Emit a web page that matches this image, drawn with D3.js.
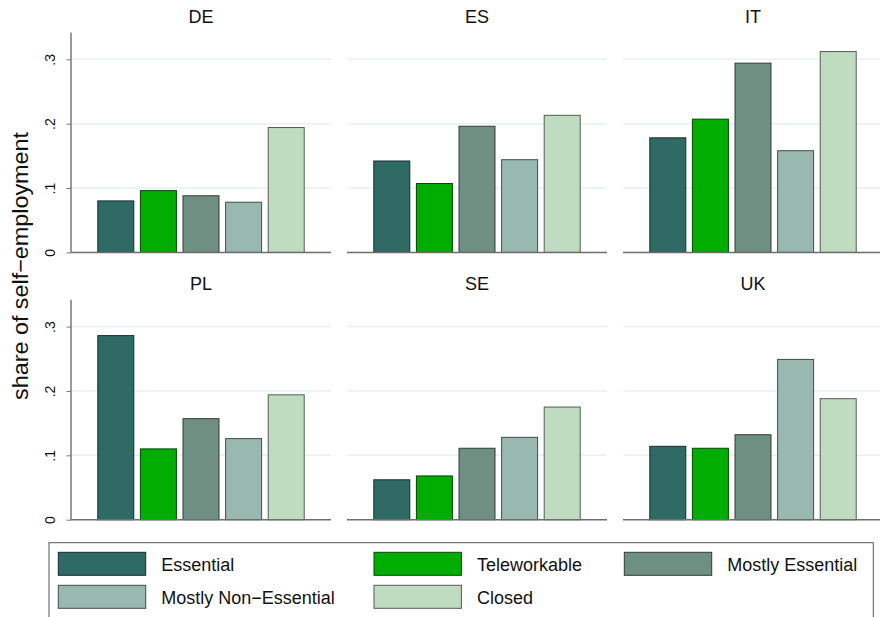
<!DOCTYPE html>
<html>
<head>
<meta charset="utf-8">
<script src="https://cdn.jsdelivr.net/npm/d3@7"></script>
<style>
  body { margin: 0; background: #fff; }
  svg { display: block; font-family: "Liberation Sans", Arial, Helvetica, sans-serif; }
</style>
</head>
<body>
<svg id="chart" width="880" height="617"></svg>
<script>
// data
let countries = ["DE", "ES", "IT", "PL", "SE", "UK"]
let categories = ["Essential", "Teleworkable", "Mostly Essential", "Mostly Non\u2212Essential", "Closed"]
let essential       = [0.080, 0.142, 0.178, 0.286, 0.062, 0.114]
let teleworkable    = [0.096, 0.107, 0.207, 0.110, 0.068, 0.111]
let mostlyEssential = [0.088, 0.196, 0.294, 0.157, 0.111, 0.132]
let mostlyNonEss    = [0.078, 0.144, 0.158, 0.126, 0.128, 0.249]
let closed          = [0.194, 0.213, 0.312, 0.194, 0.175, 0.188]
let yTicks = [0, 0.1, 0.2, 0.3]
let yTickLabels = ["0", ".1", ".2", ".3"]

let colors = ["#2f6b64", "#00ad00", "#6f8f82", "#98b8b0", "#c0dcc0"]

let seriesValues = [essential, teleworkable, mostlyEssential, mostlyNonEss, closed]

let svg = d3.select("#chart")

let panelW = 260, panelH = 220, panelStep = 276
let left = 71
let baselines = [252.4, 519.7]

let color = d3.scaleOrdinal().domain(categories).range(colors)

countries.forEach((c, i) => {
  let col = i % 3, row = Math.floor(i / 3)
  let x0 = left + col * panelStep
  let base = baselines[row]

  let y = d3.scaleLinear()
    .domain([0, 0.3418])
    .range([base, base - panelH])

  let x = d3.scaleBand()
    .domain(categories)
    .range([x0, x0 + panelW])
    .paddingInner(0.155)
    .paddingOuter(0.629)

  let g = svg.append("g").attr("class", "panel")

  // gridlines
  g.selectAll("line.grid")
    .data(yTicks.slice(1))
    .join("line")
    .attr("class", "grid")
    .attr("x1", x0).attr("x2", x0 + panelW)
    .attr("y1", d => y(d)).attr("y2", d => y(d))
    .attr("stroke", "#e8f0f3")
    .attr("stroke-width", 1.5)

  // bars
  let rows = categories.map((k, j) => ({ key: k, value: seriesValues[j][i] }))
  g.selectAll("rect")
    .data(rows)
    .join("rect")
    .attr("x", d => x(d.key))
    .attr("width", x.bandwidth())
    .attr("y", d => y(d.value))
    .attr("height", d => y(0) - y(d.value))
    .attr("fill", d => color(d.key))
    .attr("stroke", d => d3.color(color(d.key)).darker(2.4))
    .attr("stroke-width", 1)

  // baseline
  g.append("line")
    .attr("x1", x0).attr("x2", x0 + panelW)
    .attr("y1", y(0)).attr("y2", y(0))
    .attr("stroke", "#6e6e6e")
    .attr("stroke-width", 1.5)

  // title
  g.append("text")
    .attr("x", x0 + panelW / 2)
    .attr("y", base - panelH - 9.3)
    .attr("text-anchor", "middle")
    .style("font-size", "18px")
    .style("fill", "#111")
    .text(c)

  // y axis on the left column only
  if (col === 0) {
    let yAxis = d3.axisLeft(y)
      .tickValues(yTicks)
      .tickSize(4.5)
      .tickPadding(0)
      .tickFormat((d, k) => yTickLabels[k])

    let ax = svg.append("g")
      .attr("class", "y axis")
      .attr("transform", `translate(${x0},0)`)
      .call(yAxis)

    ax.select(".domain")
      .attr("d", `M0,${base - panelH}V${base}`)
      .attr("stroke", "#777")
      .attr("stroke-width", 1.5)
    ax.selectAll(".tick line").attr("stroke", "#777").attr("stroke-width", 1)
    ax.selectAll(".tick text")
      .attr("x", null).attr("dy", null)
      .attr("transform", "translate(-16,0) rotate(-90)")
      .attr("text-anchor", "middle")
      .style("font-size", "14px")
      .style("font-family", "'Liberation Sans', Arial, sans-serif")
      .style("fill", "#111")
  }
})

// y axis title
svg.append("text")
  .attr("transform", "translate(27.5,266) rotate(-90)")
  .attr("text-anchor", "middle")
  .attr("textLength", 268)
  .attr("lengthAdjust", "spacingAndGlyphs")
  .style("font-size", "22.5px")
  .style("fill", "#111")
  .text("share of self\u2212employment")

// legend
let legend = svg.append("g").attr("class", "legend")
legend.append("rect")
  .attr("x", 49).attr("y", 542.7)
  .attr("width", 824.3).attr("height", 75.3)
  .attr("fill", "none")
  .attr("stroke", "#555")
  .attr("stroke-width", 1)

let colX = [58.3, 374, 624.3]
let rowY = [552.3, 585.3]
let keyW = 87.4, keyH = 23

categories.forEach((k, j) => {
  let cx = colX[j % 3], ry = rowY[Math.floor(j / 3)]
  legend.append("rect")
    .attr("x", cx).attr("y", ry)
    .attr("width", keyW).attr("height", keyH)
    .attr("fill", color(k))
    .attr("stroke", d3.color(color(k)).darker(2.4))
    .attr("stroke-width", 1)
  legend.append("text")
    .attr("x", cx + keyW + 15.5)
    .attr("y", ry + keyH / 2 + 6.8)
    .style("font-size", "18px")
    .style("fill", "#111")
    .text(k)
})
</script>
</body>
</html>
